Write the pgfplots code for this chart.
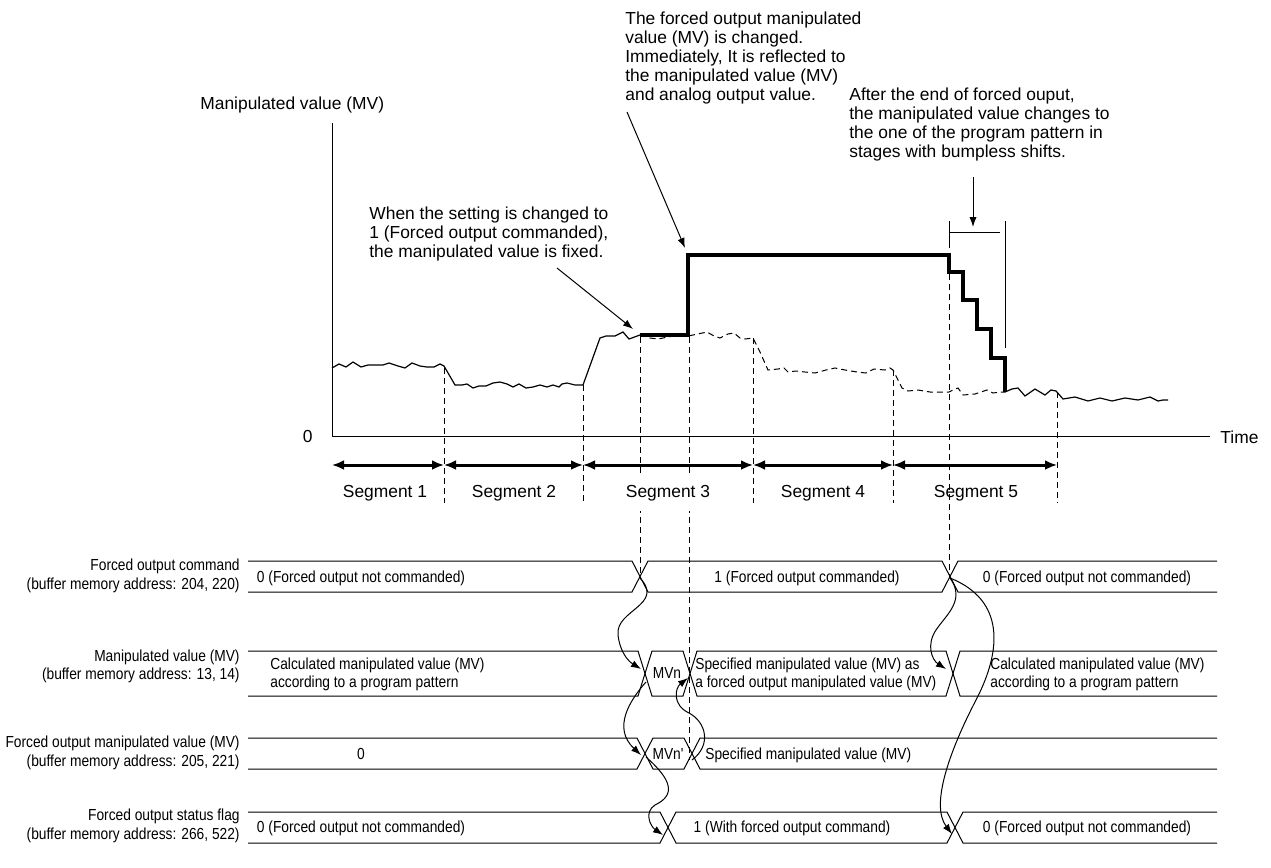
\documentclass[border=0pt]{standalone}
\usepackage{fontspec}
\setmainfont{Liberation Sans}
\newfontfamily\narrowfont[FakeStretch=0.86]{Liberation Sans}
\usepackage{pgfplots}
\pgfplotsset{compat=1.18}
\usetikzlibrary{arrows.meta}

\begin{document}
\begin{tikzpicture}[
    up/.style={font=\fontsize{8.7}{10}\selectfont, inner sep=0pt},
    lo/.style={font=\narrowfont\fontsize{8}{10}\selectfont, inner sep=0pt},
    thin line/.style={line width=0.5pt},
    dsh/.style={line width=0.5pt, dash pattern=on 3pt off 2pt},
    arr/.style={line width=0.5pt, -{Latex[length=5pt,width=3.6pt]}},
    seg/.style={line width=1.5pt, {Latex[length=6pt,width=5pt]}-{Latex[length=6pt,width=5pt]}},
]
\begin{axis}[
    hide axis, scale only axis,
    width=635.5pt, height=434pt,
    xmin=0, xmax=1271, ymin=0, ymax=868,
    y dir=reverse, clip=false,
]
\path (0,0) rectangle (1271,868);

% axes of the upper chart
\draw[thin line] (332,123) -- (332,436) -- (1210,436);
\node[up, anchor=base west] at (200,109) {Manipulated value (MV)};
\node[up, anchor=east] at (313,437) {0};
\node[up, anchor=west] at (1220,437) {Time};

% manipulated value: calculated (solid), forced (bold), hidden calculated (dashed)
\addplot[line width=0.6pt, black] coordinates {
    (332,368) (339,364) (346,367) (353,362) (361,367) (368,365) (383,365)
    (389,363) (398,366) (405,368) (412,363) (420,366) (427,367) (434,367)
    (440,364) (444,366) (455,385) (462,385) (467,384) (473,388) (479,386)
    (486,386) (493,383) (500,382) (507,384) (513,387) (519,384) (526,388)
    (533,387) (540,385) (547,387) (553,385) (559,387) (562,384) (567,383)
    (575,385) (583,385) (600,338) (606,336) (615,336) (623,332) (629,339)
    (640,335)
};
\addplot[dsh, black] coordinates {
    (640,335) (650,338) (658,339) (668,337) (680,335) (688,336) (698,334)
    (707,332) (714,336) (720,338) (728,334) (734,333) (740,338) (745,339)
    (753,338) (760,352) (768,370) (778,369) (784,368) (788,372) (796,371)
    (805,372) (815,373) (826,370) (835,368) (845,370) (857,372) (866,373)
    (874,369) (885,370) (890,368) (893,370) (902,388) (908,391) (918,390)
    (930,392) (949,392) (953,390) (958,388) (963,395) (975,394) (987,390)
    (993,393) (1000,392) (1005,392)
};
\addplot[line width=0.6pt, black] coordinates {
    (1005,392) (1012,389) (1018,388) (1025,396) (1035,389) (1045,395)
    (1051,390) (1056,391) (1063,399) (1075,397) (1088,401) (1100,398)
    (1112,401) (1125,398) (1138,400) (1150,397) (1158,401) (1163,400)
    (1168,400)
};
\addplot[line width=2pt, black, line join=miter] coordinates {
    (640,335) (688,335) (688,255) (949,255) (949,272) (963,272) (963,300)
    (977,300) (977,329) (991,329) (991,358) (1005,358) (1005,392)
};

% dashed vertical guides
\draw[dsh] (444,368) -- (444,503);
\draw[dsh] (583,385) -- (583,503);
\draw[dsh] (753,338) -- (753,503);
\draw[dsh] (893,370) -- (893,503);
\draw[dsh] (1057,392) -- (1057,503);
\draw[dsh] (640,337) -- (640,578);
\draw[dsh] (689,337) -- (689,760);
\draw[dsh] (949,274) -- (949,578);

% segments
\draw[seg] (332,465) -- (444,465);
\draw[seg] (444,465) -- (583,465);
\draw[seg] (583,465) -- (753,465);
\draw[seg] (753,465) -- (893,465);
\draw[seg] (893,465) -- (1057,465);
\node[up, anchor=base] at (385,497) {Segment 1};
\node[up, anchor=base] at (514,497) {Segment 2};
\node[up, anchor=base, fill=white, inner xsep=0pt, inner ysep=5pt] at (668,497) {Segment 3};
\node[up, anchor=base] at (823,497) {Segment 4};
\node[up, anchor=base] at (976,497) {Segment 5};

% annotations
\node[up, anchor=base west] at (369,219) {When the setting is changed to};
\node[up, anchor=base west] at (369,238) {1 (Forced output commanded),};
\node[up, anchor=base west] at (369,257) {the manipulated value is fixed.};
\draw[arr] (557,268) -- (633,329);

\node[up, anchor=base west] at (625,24) {The forced output manipulated};
\node[up, anchor=base west] at (625,43) {value (MV) is changed.};
\node[up, anchor=base west] at (625,62) {Immediately, It is reflected to};
\node[up, anchor=base west] at (625,81) {the manipulated value (MV)};
\node[up, anchor=base west] at (625,100) {and analog output value.};
\draw[arr] (627,112) -- (685,248);

\node[up, anchor=base west] at (849,100) {After the end of forced ouput,};
\node[up, anchor=base west] at (849,119) {the manipulated value changes to};
\node[up, anchor=base west] at (849,138) {the one of the program pattern in};
\node[up, anchor=base west] at (849,157) {stages with bumpless shifts.};
\draw[arr] (973,177) -- (973,227);
\draw[thin line] (949,221) -- (949,248);
\draw[thin line] (949,232) -- (1000,232);
\draw[thin line] (1005,221) -- (1005,348);

% timing rows
\draw[thin line] (248,561) -- (632,561) -- (648,592) -- (942,592) -- (958,561) -- (1217,561);
\draw[thin line] (248,592) -- (632,592) -- (648,561) -- (942,561) -- (958,592) -- (1217,592);
\draw[thin line] (248,651) -- (638,651) -- (652,696) -- (683,696) -- (697,651) -- (946,651) -- (960,696) -- (1217,696);
\draw[thin line] (248,696) -- (638,696) -- (652,651) -- (683,651) -- (697,696) -- (946,696) -- (960,651) -- (1217,651);
\draw[thin line] (248,738) -- (637,738) -- (653,769) -- (684,769) -- (700,738) -- (1217,738);
\draw[thin line] (248,769) -- (637,769) -- (653,738) -- (684,738) -- (700,769) -- (1217,769);
\draw[thin line] (248,812) -- (660,812) -- (676,843) -- (947,843) -- (963,812) -- (1217,812);
\draw[thin line] (248,843) -- (660,843) -- (676,812) -- (947,812) -- (963,843) -- (1217,843);

\node[lo, anchor=base east] at (240,570) {Forced output command};
\node[lo, anchor=base east] at (240,589) {(buffer memory address: 204, 220)};
\node[lo, anchor=base east] at (240,661) {Manipulated value (MV)};
\node[lo, anchor=base east] at (240,679) {(buffer memory address: 13, 14)};
\node[lo, anchor=base east] at (240,747) {Forced output manipulated value (MV)};
\node[lo, anchor=base east] at (240,766) {(buffer memory address: 205, 221)};
\node[lo, anchor=base east] at (240,820) {Forced output status flag};
\node[lo, anchor=base east] at (240,839) {(buffer memory address: 266, 522)};

\node[lo, anchor=base] at (361,582) {0 (Forced output not commanded)};
\node[lo, anchor=base] at (807,582) {1 (Forced output commanded)};
\node[lo, anchor=base] at (1087,582) {0 (Forced output not commanded)};

\node[lo, anchor=base west] at (270,669) {Calculated manipulated value (MV)};
\node[lo, anchor=base west] at (270,687) {according to a program pattern};
\node[lo, anchor=base] at (667,678) {MVn};
\node[lo, anchor=base west] at (695,669) {Specified manipulated value (MV) as};
\node[lo, anchor=base west] at (695,687) {a forced output manipulated value (MV)};
\node[lo, anchor=base west] at (990,669) {Calculated manipulated value (MV)};
\node[lo, anchor=base west] at (990,687) {according to a program pattern};

\node[lo, anchor=base] at (361,759) {0};
\node[lo, anchor=base] at (668,759) {MVn'};
\node[lo, anchor=base west] at (705,759) {Specified manipulated value (MV)};

\node[lo, anchor=base] at (361,832) {0 (Forced output not commanded)};
\node[lo, anchor=base] at (792,832) {1 (With forced output command)};
\node[lo, anchor=base] at (1087,832) {0 (Forced output not commanded)};

% causal arrows
\draw[arr] (640,578) .. controls (665,605) and (615,610) .. (618,635) .. controls (620,652) and (628,661) .. (641,669);
\draw[arr] (646,682) .. controls (630,700) and (612,728) .. (641,755);
\draw[arr] (646,757) .. controls (672,780) and (676,795) .. (655,805) .. controls (644,812) and (650,826) .. (663,835);
\draw[arr] (692,760) .. controls (712,745) and (706,722) .. (689,713) .. controls (672,705) and (675,688) .. (688,678);
\draw[arr] (950,578) .. controls (966,600) and (946,615) .. (936,630) .. controls (926,645) and (932,660) .. (946,669);
\draw[arr] (950,578) .. controls (1005,600) and (1002,650) .. (976,700) .. controls (950,750) and (930,805) .. (952,834);
\end{axis}
\end{tikzpicture}
\end{document}
